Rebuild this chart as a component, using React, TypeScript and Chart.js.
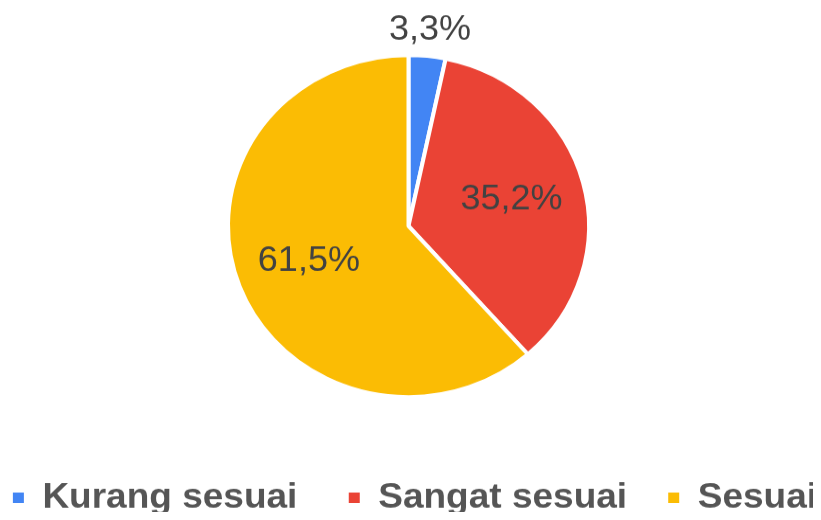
import React, { useEffect, useRef } from 'react';
import { Chart, registerables } from 'chart.js';

Chart.register(...registerables);

const categories = ['Kurang sesuai', 'Sangat sesuai', 'Sesuai'];
const values = [3.3, 35.2, 61.5];
const colors = ['#4285F4', '#EA4335', '#FBBC04'];
const valueLabels = values.map((v) => v.toFixed(1).replace('.', ',') + '%');
const legendGaps = ['     ', '    ', ''];

const FONT = '"Liberation Sans", Arial, sans-serif';
// the reference is squeezed vertically: draw taller, then scale down
const INNER_H = 549;
const OUTER_H = 520;

const labelPlugin = {
  id: 'sliceLabels',
  afterDatasetsDraw(chart: any) {
    const ctx = chart.ctx;
    const meta = chart.getDatasetMeta(0);
    ctx.save();
    ctx.font = `normal 36px ${FONT}`;
    ctx.fillStyle = '#424242';
    ctx.textAlign = 'center';
    ctx.textBaseline = 'middle';
    meta.data.forEach((arc: any, i: number) => {
      const { x, y, startAngle, endAngle, outerRadius } = arc.getProps(
        ['x', 'y', 'startAngle', 'endAngle', 'outerRadius'],
        true
      );
      const mid = (startAngle + endAngle) / 2;
      const frac = (endAngle - startAngle) / (2 * Math.PI);
      const r = frac < 0.06 ? outerRadius + 27 : outerRadius * 0.59;
      ctx.fillText(valueLabels[i], x + Math.cos(mid) * r, y + Math.sin(mid) * r);
    });
    ctx.restore();
  },
};

export default function App() {
  const ref = useRef<HTMLCanvasElement>(null);
  useEffect(() => {
    const chart = new Chart(ref.current as HTMLCanvasElement, {
      type: 'pie',
      data: {
        labels: categories,
        datasets: [
          {
            data: values,
            backgroundColor: colors,
            borderColor: '#ffffff',
            borderWidth: 4,
            radius: 180.5,
          } as any,
        ],
      },
      options: {
        animation: false,
        responsive: true,
        maintainAspectRatio: false,
        layout: { padding: { top: 0, right: 4, bottom: -5, left: 0 } },
        plugins: {
          tooltip: { enabled: false },
          legend: {
            position: 'bottom',
            align: 'end',
            title: {
              display: true,
              text: ' ',
              font: { size: 10, lineHeight: 1 },
              padding: { top: 19.7, bottom: 0 },
            },
            labels: {
              boxWidth: 11,
              boxHeight: 11,
              padding: 0,
              color: '#555555',
              font: { family: FONT, size: 37, weight: 'bold' },
              generateLabels: () =>
                categories.map((c, i) => ({
                  text: c + legendGaps[i],
                  fillStyle: colors[i],
                  strokeStyle: colors[i],
                  lineWidth: 0,
                  fontColor: '#555555',
                  hidden: false,
                  index: i,
                  datasetIndex: 0,
                })),
            },
          },
        },
      } as any,
      plugins: [labelPlugin],
    });
    return () => chart.destroy();
  }, []);
  return (
    <div style={{ width: 821, height: OUTER_H, margin: -8, overflow: 'hidden' }}>
      <div
        style={{
          position: 'relative',
          width: 821,
          height: INNER_H,
          transform: `scaleY(${OUTER_H / INNER_H})`,
          transformOrigin: '0 0',
        }}
      >
        <canvas ref={ref} />
      </div>
    </div>
  );
}
